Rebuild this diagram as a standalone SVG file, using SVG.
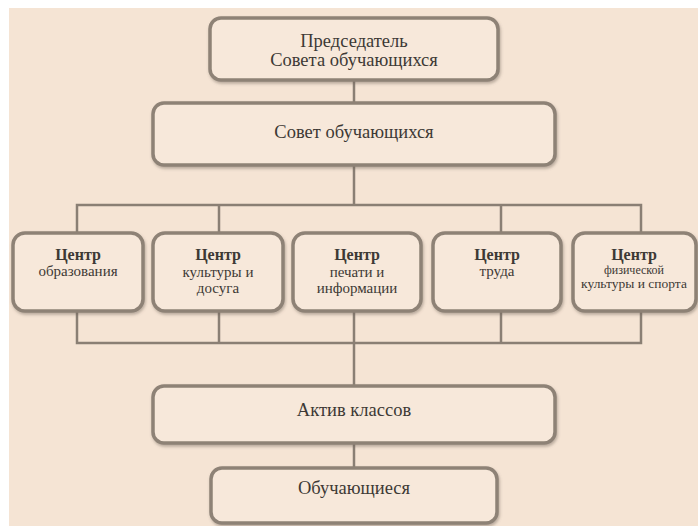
<svg xmlns="http://www.w3.org/2000/svg" width="698" height="526" viewBox="0 0 698 526">
<defs>
<filter id="sh" x="-10%" y="-20%" width="120%" height="140%">
<feGaussianBlur in="SourceAlpha" stdDeviation="1.5"/>
<feOffset dx="1" dy="2" result="b"/>
<feFlood flood-color="#6e6258" flood-opacity="0.45"/>
<feComposite in2="b" operator="in"/>
<feMerge><feMergeNode/><feMergeNode in="SourceGraphic"/></feMerge>
</filter>
</defs>
<style>
.box{fill:#f7e8da;stroke:#8e8276;stroke-width:3.5;filter:url(#sh)}
.ln{fill:none;stroke:#8a7f74;stroke-width:2.5}
text{font-family:"Liberation Serif","DejaVu Serif",serif;fill:#3d3935;text-anchor:middle}
.t{font-size:18.5px}
.b{font-size:16px;font-weight:bold}
.s{font-size:15px}
.xs{font-size:12px}
.xm{font-size:13.5px}
</style>
<rect x="0" y="0" width="698" height="526" fill="#ffffff"/>
<rect x="9" y="8" width="689" height="518" fill="#f5e4d4"/>
<g id="connectors">
<line class="ln" x1="354" y1="80" x2="354" y2="103"/>
<line class="ln" x1="354" y1="165" x2="354" y2="205"/>
<polyline class="ln" points="77,233 77,205 641,205 641,233"/>
<line class="ln" x1="219" y1="205" x2="219" y2="233"/>
<line class="ln" x1="501" y1="205" x2="501" y2="233"/>
<polyline class="ln" points="77,311 77,343 641,343 641,311"/>
<line class="ln" x1="219" y1="311" x2="219" y2="343"/>
<line class="ln" x1="501" y1="311" x2="501" y2="343"/>
<line class="ln" x1="354" y1="311" x2="354" y2="386"/>
<line class="ln" x1="354" y1="443" x2="354" y2="468"/>
</g>
<g id="chair">
<rect class="box" x="210" y="18" width="288" height="62" rx="11"/>
<text class="t" x="354" y="47">Председатель</text>
<text class="t" x="354" y="66">Совета обучающихся</text>
</g>
<g id="council">
<rect class="box" x="153" y="103" width="402" height="62" rx="11"/>
<text class="t" x="354" y="138">Совет обучающихся</text>
</g>
<g id="c1">
<rect class="box" x="13" y="233" width="130" height="78" rx="12"/>
<text class="b" x="78" y="260">Центр</text>
<text class="s" x="78" y="276">образования</text>
</g>
<g id="c2">
<rect class="box" x="153" y="233" width="130" height="78" rx="12"/>
<text class="b" x="218" y="260">Центр</text>
<text class="s" x="218" y="277">культуры и</text>
<text class="s" x="218" y="293">досуга</text>
</g>
<g id="c3">
<rect class="box" x="293" y="233" width="128" height="78" rx="12"/>
<text class="b" x="357" y="260">Центр</text>
<text class="s" x="357" y="277">печати и</text>
<text class="s" x="357" y="293">информации</text>
</g>
<g id="c4">
<rect class="box" x="433" y="233" width="128" height="78" rx="12"/>
<text class="b" x="497" y="260">Центр</text>
<text class="s" x="497" y="276">труда</text>
</g>
<g id="c5">
<rect class="box" x="573" y="233" width="123" height="78" rx="12"/>
<text class="b" x="634" y="260">Центр</text>
<text class="xs" x="634" y="274">физической</text>
<text class="xm" x="634" y="288">культуры и спорта</text>
</g>
<g id="aktiv">
<rect class="box" x="153" y="386" width="402" height="57" rx="11"/>
<text class="t" x="354" y="416">Актив классов</text>
</g>
<g id="students">
<rect class="box" x="211" y="468" width="286" height="55" rx="11"/>
<text class="t" x="354" y="494">Обучающиеся</text>
</g>
</svg>
